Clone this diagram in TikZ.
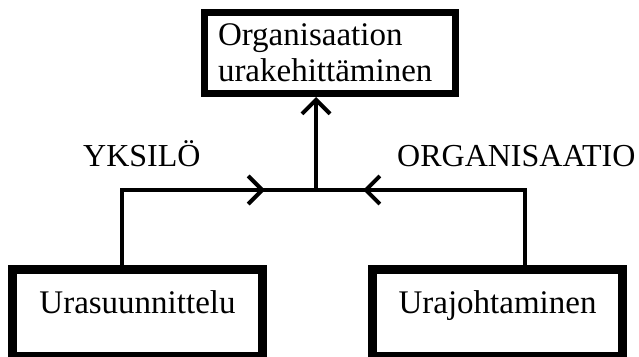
\documentclass[tikz,border=0pt]{standalone}
\usepackage{fontspec}
\setmainfont{Liberation Serif}
\usetikzlibrary{arrows.meta,decorations.markings}

\tikzset{
  laatikko/.style = {draw, rectangle, inner sep=0pt, font=\fontsize{33}{36}\selectfont},
  alalaatikko/.style = {laatikko, line width=9pt, minimum width=250pt, minimum height=87pt,
    text height=24pt, text depth=24pt},
  otsikko/.style = {inner sep=0pt, anchor=base west, font=\fontsize{32}{36}\selectfont},
  yhteys/.style = {line width=4pt, line join=miter},
  karki/.tip = {Straight Barb[length=14pt, width=28pt]},
  nuolikohta/.style = {postaction={decorate}, decoration={markings,
    mark=at position #1 with {\arrow[line width=4pt]{karki}}}}
}

\begin{document}
\begin{tikzpicture}[x=1pt, y=-1pt]
    \useasboundingbox (0,0) rectangle (639,356);
    % laatikot
    \node[laatikko, line width=7pt, minimum width=251pt, minimum height=81pt,
      align=left, text width=224pt] (kehitys) at (330,53)
      {Organisaation\\urakehittäminen};
    \node[alalaatikko] (suunnittelu) at (137.5,313) {Urasuunnittelu};
    \node[alalaatikko] (johtaminen) at (497.5,313) {Urajohtaminen};
    % tekstit
    \node[otsikko] (yksilo) at (83,166) {YKSILÖ};
    \node[otsikko] (organisaatio) at (397,166) {ORGANISAATIO};
    % viivat
    \coordinate (risteys) at (316,190);
    \coordinate (vasen) at (122,190);
    \coordinate (oikea) at (525,190);
    \draw[yhteys, nuolikohta=-51pt] (suunnittelu.north -| vasen) -- (vasen) -- (risteys);
    \draw[yhteys, nuolikohta=-47pt] (johtaminen.north -| oikea) -- (oikea) -- (risteys);
    \draw[yhteys, -{karki}] (risteys) -- (kehitys.south -| risteys);
\end{tikzpicture}
\end{document}
